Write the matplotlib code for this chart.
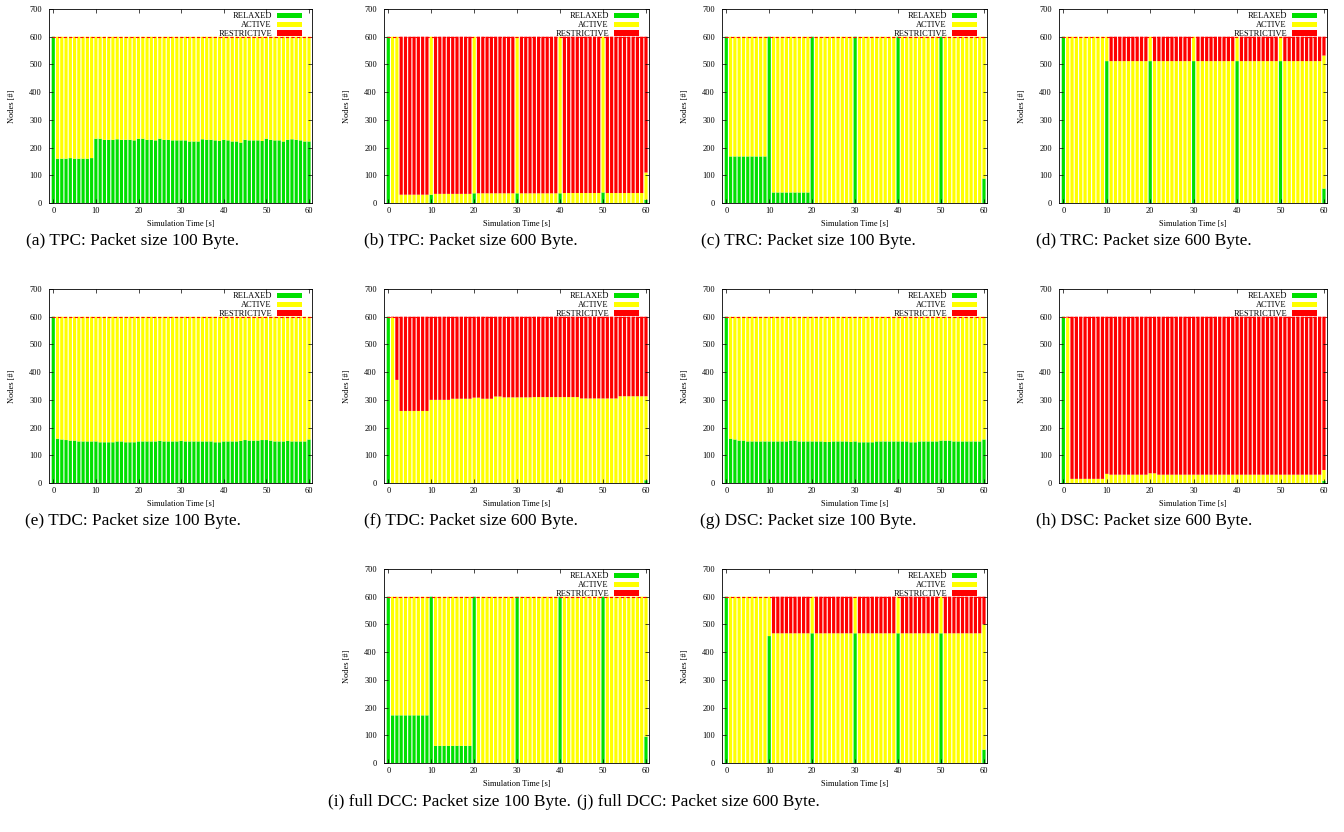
import numpy as np
import matplotlib
matplotlib.use("Agg")
import matplotlib.pyplot as plt
from matplotlib.patches import Patch

plt.rcParams["font.family"] = ["Liberation Serif", "DejaVu Serif"]

# Zeitachse (eine Säule pro Sekunde) und Knotenanzahl
time_s = np.arange(61)
total_nodes = 600
state_labels = ["RELAXED", "ACTIVE", "RESTRICTIVE"]

# (a) TPC, 100 Byte
tpc100_relaxed = [
    600, 160, 160, 160, 162, 160, 160, 160, 160, 162,
    232, 232, 228, 228, 228, 230, 228, 228, 228, 226,
    232, 232, 228, 228, 226, 232, 228, 228, 226, 226,
    226, 226, 222, 222, 222, 230, 228, 228, 226, 224,
    228, 226, 222, 222, 218, 228, 226, 226, 226, 224,
    232, 228, 226, 226, 222, 228, 230, 228, 226, 222,
    222]
tpc100_active = [
    0, 440, 440, 440, 438, 440, 440, 440, 440, 438,
    368, 368, 372, 372, 372, 370, 372, 372, 372, 374,
    368, 368, 372, 372, 374, 368, 372, 372, 374, 374,
    374, 374, 378, 378, 378, 370, 372, 372, 374, 376,
    372, 374, 378, 378, 382, 372, 374, 374, 374, 376,
    368, 372, 374, 374, 378, 372, 370, 372, 374, 378,
    378]
tpc100_restrictive = [
    0, 0, 0, 0, 0, 0, 0, 0, 0, 0,
    0, 0, 0, 0, 0, 0, 0, 0, 0, 0,
    0, 0, 0, 0, 0, 0, 0, 0, 0, 0,
    0, 0, 0, 0, 0, 0, 0, 0, 0, 0,
    0, 0, 0, 0, 0, 0, 0, 0, 0, 0,
    0, 0, 0, 0, 0, 0, 0, 0, 0, 0,
    0]

# (b) TPC, 600 Byte
tpc600_relaxed = [
    600, 0, 0, 0, 0, 0, 0, 0, 0, 0,
    30, 0, 0, 0, 0, 0, 0, 0, 0, 0,
    35, 0, 0, 0, 0, 0, 0, 0, 0, 0,
    35, 0, 0, 0, 0, 0, 0, 0, 0, 0,
    35, 0, 0, 0, 0, 0, 0, 0, 0, 0,
    38, 0, 0, 0, 0, 0, 0, 0, 0, 0,
    12]
tpc600_active = [
    0, 600, 600, 30, 30, 30, 30, 30, 30, 30,
    570, 33, 33, 33, 33, 33, 33, 33, 33, 33,
    565, 35, 35, 35, 35, 35, 35, 35, 35, 35,
    565, 35, 35, 35, 35, 35, 35, 35, 35, 35,
    565, 36, 36, 36, 36, 36, 36, 36, 36, 36,
    562, 36, 36, 36, 36, 36, 36, 36, 36, 36,
    98]
tpc600_restrictive = [
    0, 0, 0, 570, 570, 570, 570, 570, 570, 570,
    0, 567, 567, 567, 567, 567, 567, 567, 567, 567,
    0, 565, 565, 565, 565, 565, 565, 565, 565, 565,
    0, 565, 565, 565, 565, 565, 565, 565, 565, 565,
    0, 564, 564, 564, 564, 564, 564, 564, 564, 564,
    0, 564, 564, 564, 564, 564, 564, 564, 564, 564,
    490]

# (c) TRC, 100 Byte
trc100_relaxed = [
    600, 168, 168, 168, 168, 168, 168, 168, 168, 168,
    600, 38, 38, 38, 38, 38, 38, 38, 38, 38,
    600, 0, 0, 0, 0, 0, 0, 0, 0, 0,
    600, 0, 0, 0, 0, 0, 0, 0, 0, 0,
    600, 0, 0, 0, 0, 0, 0, 0, 0, 0,
    600, 0, 0, 0, 0, 0, 0, 0, 0, 0,
    88]
trc100_active = [
    0, 432, 432, 432, 432, 432, 432, 432, 432, 432,
    0, 562, 562, 562, 562, 562, 562, 562, 562, 562,
    0, 600, 600, 600, 600, 600, 600, 600, 600, 600,
    0, 600, 600, 600, 600, 600, 600, 600, 600, 600,
    0, 600, 600, 600, 600, 600, 600, 600, 600, 600,
    0, 600, 600, 600, 600, 600, 600, 600, 600, 600,
    512]
trc100_restrictive = [
    0, 0, 0, 0, 0, 0, 0, 0, 0, 0,
    0, 0, 0, 0, 0, 0, 0, 0, 0, 0,
    0, 0, 0, 0, 0, 0, 0, 0, 0, 0,
    0, 0, 0, 0, 0, 0, 0, 0, 0, 0,
    0, 0, 0, 0, 0, 0, 0, 0, 0, 0,
    0, 0, 0, 0, 0, 0, 0, 0, 0, 0,
    0]

# (d) TRC, 600 Byte
trc600_relaxed = [
    600, 0, 0, 0, 0, 0, 0, 0, 0, 0,
    512, 0, 0, 0, 0, 0, 0, 0, 0, 0,
    512, 0, 0, 0, 0, 0, 0, 0, 0, 0,
    512, 0, 0, 0, 0, 0, 0, 0, 0, 0,
    512, 0, 0, 0, 0, 0, 0, 0, 0, 0,
    512, 0, 0, 0, 0, 0, 0, 0, 0, 0,
    52]
trc600_active = [
    0, 600, 600, 600, 600, 600, 600, 600, 600, 600,
    88, 512, 512, 512, 512, 512, 512, 512, 512, 512,
    88, 512, 512, 512, 512, 512, 512, 512, 512, 512,
    88, 512, 512, 512, 512, 512, 512, 512, 512, 512,
    88, 512, 512, 512, 512, 512, 512, 512, 512, 512,
    88, 512, 512, 512, 512, 512, 512, 512, 512, 512,
    480]
trc600_restrictive = [
    0, 0, 0, 0, 0, 0, 0, 0, 0, 0,
    0, 88, 88, 88, 88, 88, 88, 88, 88, 88,
    0, 88, 88, 88, 88, 88, 88, 88, 88, 88,
    0, 88, 88, 88, 88, 88, 88, 88, 88, 88,
    0, 88, 88, 88, 88, 88, 88, 88, 88, 88,
    0, 88, 88, 88, 88, 88, 88, 88, 88, 88,
    68]

# (e) TDC, 100 Byte
tdc100_relaxed = [
    600, 160, 157, 155, 153, 153, 150, 150, 150, 150,
    150, 147, 147, 147, 147, 150, 150, 147, 147, 147,
    150, 150, 150, 150, 150, 152, 150, 150, 150, 150,
    152, 150, 150, 150, 150, 150, 150, 150, 147, 147,
    150, 150, 150, 150, 152, 155, 153, 153, 153, 155,
    155, 153, 150, 150, 150, 152, 150, 150, 150, 150,
    157]
tdc100_active = [
    0, 440, 443, 445, 447, 447, 450, 450, 450, 450,
    450, 453, 453, 453, 453, 450, 450, 453, 453, 453,
    450, 450, 450, 450, 450, 448, 450, 450, 450, 450,
    448, 450, 450, 450, 450, 450, 450, 450, 453, 453,
    450, 450, 450, 450, 448, 445, 447, 447, 447, 445,
    445, 447, 450, 450, 450, 448, 450, 450, 450, 450,
    443]
tdc100_restrictive = [
    0, 0, 0, 0, 0, 0, 0, 0, 0, 0,
    0, 0, 0, 0, 0, 0, 0, 0, 0, 0,
    0, 0, 0, 0, 0, 0, 0, 0, 0, 0,
    0, 0, 0, 0, 0, 0, 0, 0, 0, 0,
    0, 0, 0, 0, 0, 0, 0, 0, 0, 0,
    0, 0, 0, 0, 0, 0, 0, 0, 0, 0,
    0]

# (f) TDC, 600 Byte
tdc600_relaxed = [
    600, 0, 0, 0, 0, 0, 0, 0, 0, 0,
    0, 0, 0, 0, 0, 0, 0, 0, 0, 0,
    0, 0, 0, 0, 0, 0, 0, 0, 0, 0,
    0, 0, 0, 0, 0, 0, 0, 0, 0, 0,
    0, 0, 0, 0, 0, 0, 0, 0, 0, 0,
    0, 0, 0, 0, 0, 0, 0, 0, 0, 0,
    10]
tdc600_active = [
    0, 597, 372, 260, 260, 260, 260, 260, 260, 260,
    300, 300, 300, 300, 300, 304, 304, 304, 304, 304,
    308, 308, 304, 304, 304, 312, 312, 309, 309, 309,
    309, 309, 309, 309, 310, 310, 310, 310, 310, 310,
    310, 310, 310, 310, 310, 305, 305, 305, 305, 305,
    305, 305, 305, 305, 313, 313, 313, 313, 313, 313,
    303]
tdc600_restrictive = [
    0, 3, 228, 340, 340, 340, 340, 340, 340, 340,
    300, 300, 300, 300, 300, 296, 296, 296, 296, 296,
    292, 292, 296, 296, 296, 288, 288, 291, 291, 291,
    291, 291, 291, 291, 290, 290, 290, 290, 290, 290,
    290, 290, 290, 290, 290, 295, 295, 295, 295, 295,
    295, 295, 295, 295, 287, 287, 287, 287, 287, 287,
    287]

# (g) DSC, 100 Byte
dsc100_relaxed = [
    600, 160, 157, 153, 153, 150, 150, 150, 150, 150,
    150, 150, 150, 150, 150, 153, 153, 150, 150, 150,
    150, 150, 150, 148, 148, 150, 150, 150, 150, 148,
    150, 147, 147, 147, 147, 150, 150, 150, 150, 150,
    150, 150, 150, 147, 147, 150, 150, 150, 150, 150,
    153, 153, 153, 150, 150, 150, 150, 150, 150, 150,
    157]
dsc100_active = [
    0, 440, 443, 447, 447, 450, 450, 450, 450, 450,
    450, 450, 450, 450, 450, 447, 447, 450, 450, 450,
    450, 450, 450, 452, 452, 450, 450, 450, 450, 452,
    450, 453, 453, 453, 453, 450, 450, 450, 450, 450,
    450, 450, 450, 453, 453, 450, 450, 450, 450, 450,
    447, 447, 447, 450, 450, 450, 450, 450, 450, 450,
    443]
dsc100_restrictive = [
    0, 0, 0, 0, 0, 0, 0, 0, 0, 0,
    0, 0, 0, 0, 0, 0, 0, 0, 0, 0,
    0, 0, 0, 0, 0, 0, 0, 0, 0, 0,
    0, 0, 0, 0, 0, 0, 0, 0, 0, 0,
    0, 0, 0, 0, 0, 0, 0, 0, 0, 0,
    0, 0, 0, 0, 0, 0, 0, 0, 0, 0,
    0]

# (h) DSC, 600 Byte
dsc600_relaxed = [
    600, 0, 0, 0, 0, 0, 0, 0, 0, 0,
    0, 0, 0, 0, 0, 0, 0, 0, 0, 0,
    0, 0, 0, 0, 0, 0, 0, 0, 0, 0,
    0, 0, 0, 0, 0, 0, 0, 0, 0, 0,
    0, 0, 0, 0, 0, 0, 0, 0, 0, 0,
    0, 0, 0, 0, 0, 0, 0, 0, 0, 0,
    8]
dsc600_active = [
    0, 597, 15, 15, 15, 15, 15, 15, 15, 15,
    33, 30, 30, 30, 30, 30, 30, 30, 30, 30,
    35, 35, 30, 30, 30, 30, 30, 30, 30, 30,
    30, 30, 30, 30, 30, 30, 30, 30, 30, 30,
    30, 30, 30, 30, 30, 30, 30, 30, 30, 30,
    30, 30, 30, 30, 30, 30, 30, 30, 30, 30,
    39]
dsc600_restrictive = [
    0, 3, 585, 585, 585, 585, 585, 585, 585, 585,
    567, 570, 570, 570, 570, 570, 570, 570, 570, 570,
    565, 565, 570, 570, 570, 570, 570, 570, 570, 570,
    570, 570, 570, 570, 570, 570, 570, 570, 570, 570,
    570, 570, 570, 570, 570, 570, 570, 570, 570, 570,
    570, 570, 570, 570, 570, 570, 570, 570, 570, 570,
    553]

# (i) full DCC, 100 Byte
dcc100_relaxed = [
    600, 172, 172, 172, 172, 172, 172, 172, 172, 172,
    600, 62, 62, 62, 62, 62, 62, 62, 62, 62,
    600, 0, 0, 0, 0, 0, 0, 0, 0, 0,
    600, 0, 0, 0, 0, 0, 0, 0, 0, 0,
    600, 0, 0, 0, 0, 0, 0, 0, 0, 0,
    600, 0, 0, 0, 0, 0, 0, 0, 0, 0,
    95]
dcc100_active = [
    0, 428, 428, 428, 428, 428, 428, 428, 428, 428,
    0, 538, 538, 538, 538, 538, 538, 538, 538, 538,
    0, 600, 600, 600, 600, 600, 600, 600, 600, 600,
    0, 600, 600, 600, 600, 600, 600, 600, 600, 600,
    0, 600, 600, 600, 600, 600, 600, 600, 600, 600,
    0, 600, 600, 600, 600, 600, 600, 600, 600, 600,
    505]
dcc100_restrictive = [
    0, 0, 0, 0, 0, 0, 0, 0, 0, 0,
    0, 0, 0, 0, 0, 0, 0, 0, 0, 0,
    0, 0, 0, 0, 0, 0, 0, 0, 0, 0,
    0, 0, 0, 0, 0, 0, 0, 0, 0, 0,
    0, 0, 0, 0, 0, 0, 0, 0, 0, 0,
    0, 0, 0, 0, 0, 0, 0, 0, 0, 0,
    0]

# (j) full DCC, 600 Byte
dcc600_relaxed = [
    600, 0, 0, 0, 0, 0, 0, 0, 0, 0,
    458, 0, 0, 0, 0, 0, 0, 0, 0, 0,
    468, 0, 0, 0, 0, 0, 0, 0, 0, 0,
    468, 0, 0, 0, 0, 0, 0, 0, 0, 0,
    468, 0, 0, 0, 0, 0, 0, 0, 0, 0,
    468, 0, 0, 0, 0, 0, 0, 0, 0, 0,
    48]
dcc600_active = [
    0, 600, 600, 600, 600, 600, 600, 600, 600, 600,
    142, 468, 468, 468, 468, 468, 468, 468, 468, 468,
    132, 468, 468, 468, 468, 468, 468, 468, 468, 468,
    132, 468, 468, 468, 468, 468, 468, 468, 468, 468,
    132, 468, 468, 468, 468, 468, 468, 468, 468, 468,
    132, 468, 468, 468, 468, 468, 468, 468, 468, 468,
    452]
dcc600_restrictive = [
    0, 0, 0, 0, 0, 0, 0, 0, 0, 0,
    0, 132, 132, 132, 132, 132, 132, 132, 132, 132,
    0, 132, 132, 132, 132, 132, 132, 132, 132, 132,
    0, 132, 132, 132, 132, 132, 132, 132, 132, 132,
    0, 132, 132, 132, 132, 132, 132, 132, 132, 132,
    0, 132, 132, 132, 132, 132, 132, 132, 132, 132,
    100]

captions = [
    "(a) TPC: Packet size 100 Byte.", "(b) TPC: Packet size 600 Byte.",
    "(c) TRC: Packet size 100 Byte.", "(d) TRC: Packet size 600 Byte.",
    "(e) TDC: Packet size 100 Byte.", "(f) TDC: Packet size 600 Byte.",
    "(g) DSC: Packet size 100 Byte.", "(h) DSC: Packet size 600 Byte.",
    "(i) full DCC: Packet size 100 Byte.", "(j) full DCC: Packet size 600 Byte.",
]
panels = [
    (tpc100_relaxed, tpc100_active, tpc100_restrictive),
    (tpc600_relaxed, tpc600_active, tpc600_restrictive),
    (trc100_relaxed, trc100_active, trc100_restrictive),
    (trc600_relaxed, trc600_active, trc600_restrictive),
    (tdc100_relaxed, tdc100_active, tdc100_restrictive),
    (tdc600_relaxed, tdc600_active, tdc600_restrictive),
    (dsc100_relaxed, dsc100_active, dsc100_restrictive),
    (dsc600_relaxed, dsc600_active, dsc600_restrictive),
    (dcc100_relaxed, dcc100_active, dcc100_restrictive),
    (dcc600_relaxed, dcc600_active, dcc600_restrictive),
]

# Layout in Pixeln: (links, rechts, oben, unten) und Position der Unterschrift
W, H = 1344, 832
cols = [(49, 312), (384, 649), (722, 987), (1059, 1327)]
rows = [(9, 203), (289, 483), (569, 763)]
axes_px = [(c[0], c[1], r[0], r[1]) for r in rows[:2] for c in cols]
axes_px += [(cols[1][0], cols[1][1], rows[2][0], rows[2][1]),
            (cols[2][0], cols[2][1], rows[2][0], rows[2][1])]
caption_px = [(133, 241), (471, 241), (808, 241), (1144, 241),
              (133, 521), (471, 521), (808, 521), (1144, 521),
              (449, 802), (698, 802)]

colors = ["#00e000", "#ffff00", "#ff0000"]
bar_w = 0.74
fs = 6

fig = plt.figure(figsize=(W / 100, H / 100), dpi=100)

for (rel, act, res), (l, r, t, b), (cx, cy), cap in zip(panels, axes_px, caption_px, captions):
    ax = fig.add_axes([l / W, 1 - b / H, (r - l) / W, (b - t) / H])
    rel = np.array(rel)
    act = np.array(act)
    res = np.array(res)
    for vals, base, c in [(rel, 0, colors[0]), (act, rel, colors[1]),
                          (res, rel + act, colors[2])]:
        bars = ax.bar(time_s, vals, width=bar_w, bottom=base, color=c, linewidth=0)
        for p in bars:
            p.set_snap(False)
    ax.hlines(total_nodes, time_s[0] - bar_w / 2, time_s[-1] + bar_w / 2,
              colors=colors[2], linestyles=(0, (3, 2)), linewidth=0.8, zorder=3)

    ax.set_xlim(-1, 60.7)
    ax.set_ylim(0, 700)
    ax.set_xticks(range(0, 61, 10))
    ax.set_yticks(range(0, 701, 100))
    ax.tick_params(direction="in", length=3, width=0.5, labelsize=fs,
                   top=True, right=True)
    ax.tick_params(axis="y", pad=5)
    ax.tick_params(axis="x", pad=3)
    for sp in ax.spines.values():
        sp.set_linewidth(0.6)

    ax.set_xlabel("Simulation Time [s]", fontsize=fs)
    ax.set_ylabel("Nodes [#]", fontsize=fs)
    ax.xaxis.set_label_coords(0.5, -21 / (b - t))
    ax.xaxis.label.set_va("center")
    ax.yaxis.set_label_coords(-37 / (r - l), 0.5)
    ax.yaxis.label.set_va("center")

    handles = [Patch(facecolor=c, edgecolor="none") for c in colors]
    ax.legend(handles, state_labels, loc="upper right",
              bbox_to_anchor=(1 - 10 / (r - l), 1 - 3.5 / (b - t)),
              frameon=False, markerfirst=False, fontsize=fs,
              handlelength=3.0, handleheight=0.65, labelspacing=0.1,
              handletextpad=0.6, borderpad=0, borderaxespad=0)

    fig.text(cx / W, 1 - cy / H, cap, ha="center", va="center", fontsize=12.4)

fig.savefig("out.png", dpi=100)
